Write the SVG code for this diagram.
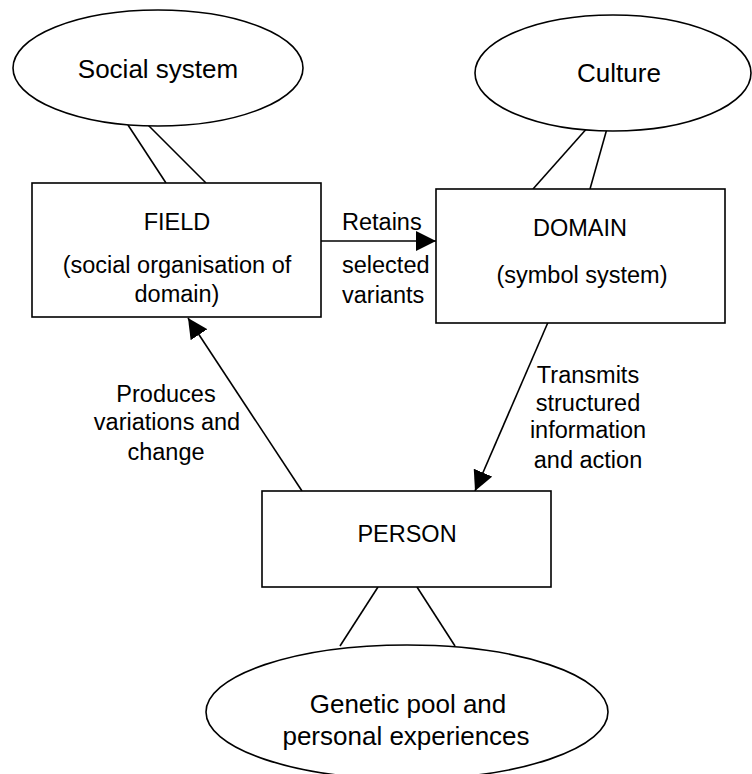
<svg xmlns="http://www.w3.org/2000/svg" width="752" height="774" viewBox="0 0 752 774">
<style>
.shape{fill:#fff;stroke:#000;stroke-width:1.6}
.ln{stroke:#000;stroke-width:1.6;fill:none}
text{font-family:"Liberation Sans",Arial,sans-serif;fill:#000}
.t{font-size:23.5px;text-anchor:middle}
.e{font-size:26px;text-anchor:middle}
.l{font-size:23.5px}
</style>
<defs>
<marker id="arr" viewBox="0 0 20 20" refX="20" refY="10" markerWidth="20" markerHeight="20" markerUnits="userSpaceOnUse" orient="auto">
<path d="M0,0 L20,10 L0,20 z" fill="#000"/>
</marker>
</defs>
<rect width="752" height="774" fill="#fff"/>
<g id="connectors">
<line class="ln" x1="128" y1="125" x2="166" y2="183"/>
<line class="ln" x1="148" y1="125" x2="206" y2="183"/>
<line class="ln" x1="589" y1="126" x2="533" y2="189"/>
<line class="ln" x1="608" y1="125" x2="590" y2="189"/>
<line class="ln" x1="378" y1="587" x2="340" y2="646"/>
<line class="ln" x1="417" y1="587" x2="455" y2="646"/>
<line class="ln" x1="321" y1="241" x2="436" y2="241" marker-end="url(#arr)"/>
<line class="ln" x1="302" y1="491" x2="188" y2="318" marker-end="url(#arr)"/>
<line class="ln" x1="549" y1="320" x2="475" y2="491" marker-end="url(#arr)"/>
<text class="l" x="342" y="230">Retains</text>
<text class="l" x="342" y="273">selected</text>
<text class="l" x="342" y="303">variants</text>
<text class="t" x="166" y="402">Produces</text>
<text class="t" x="167" y="430">variations and</text>
<text class="t" x="166" y="460">change</text>
<text class="t" x="588" y="383">Transmits</text>
<text class="t" x="588" y="411">structured</text>
<text class="t" x="588" y="438">information</text>
<text class="t" x="588" y="468">and action</text>
</g>
<g id="social">
<ellipse class="shape" cx="158" cy="68" rx="145" ry="58"/>
<text class="e" x="158" y="78">Social system</text>
</g>
<g id="culture">
<ellipse class="shape" cx="613" cy="73" rx="138" ry="58"/>
<text class="e" x="619" y="82">Culture</text>
</g>
<g id="field">
<rect class="shape" x="32" y="183" width="289" height="134"/>
<text class="t" x="177" y="230">FIELD</text>
<text class="t" x="177" y="273">(social organisation of</text>
<text class="t" x="177" y="302">domain)</text>
</g>
<g id="domain">
<rect class="shape" x="436" y="189" width="289" height="134"/>
<text class="t" x="580" y="236">DOMAIN</text>
<text class="t" x="582" y="283">(symbol system)</text>
</g>
<g id="person">
<rect class="shape" x="262" y="491" width="289" height="96"/>
<text class="t" x="407" y="542">PERSON</text>
</g>
<g id="genetic">
<ellipse class="shape" cx="407" cy="712" rx="201" ry="67"/>
<text class="e" x="408" y="713">Genetic pool and</text>
<text class="e" x="406" y="745">personal experiences</text>
</g>
</svg>
